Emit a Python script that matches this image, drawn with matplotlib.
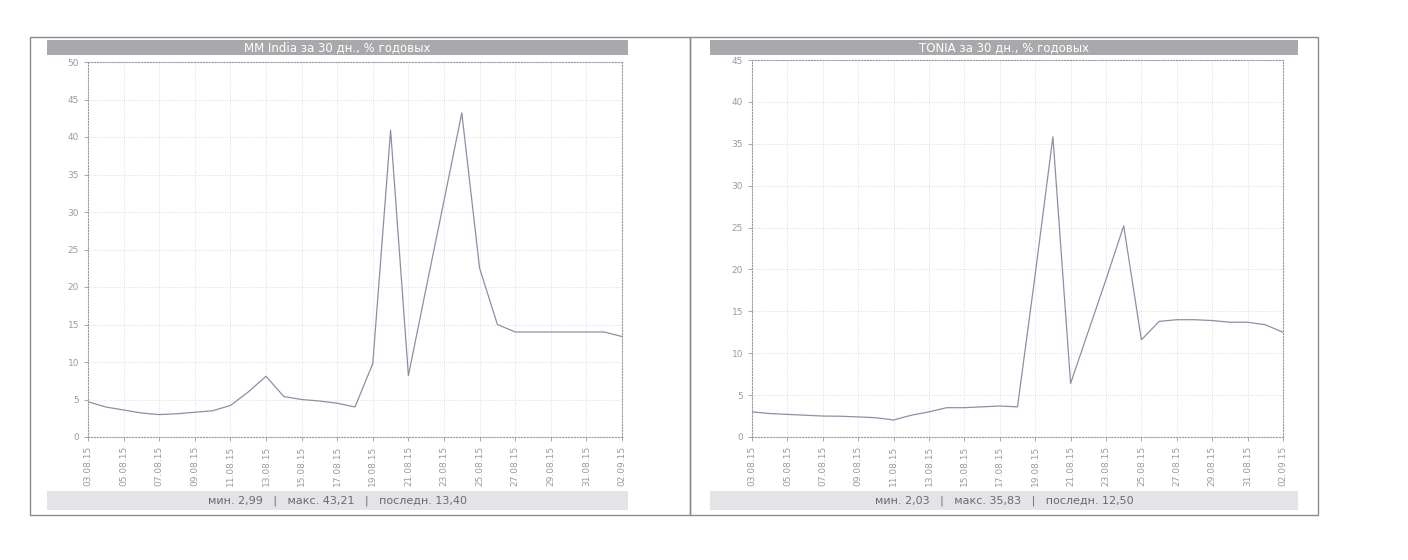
import matplotlib
matplotlib.use("Agg")
import matplotlib.pyplot as plt
from matplotlib.patches import Rectangle

# даты (ежедневно, 03.08.15 - 02.09.15)
dates = ["03.08.15", "04.08.15", "05.08.15", "06.08.15", "07.08.15", "08.08.15",
         "09.08.15", "10.08.15", "11.08.15", "12.08.15", "13.08.15", "14.08.15",
         "15.08.15", "16.08.15", "17.08.15", "18.08.15", "19.08.15", "20.08.15",
         "21.08.15", "22.08.15", "23.08.15", "24.08.15", "25.08.15", "26.08.15",
         "27.08.15", "28.08.15", "29.08.15", "30.08.15", "31.08.15", "01.09.15",
         "02.09.15"]

mm_india = [4.7, 4.0, 3.6, 3.2, 2.99, 3.1, 3.3, 3.5, 4.2, 6.0,
            8.1, 5.4, 5.0, 4.8, 4.5, 4.0, 9.8, 40.9, 8.2, 19.9,
            31.5, 43.21, 22.5, 15.0, 14.0, 14.0, 14.0, 14.0, 14.0, 14.0,
            13.4]

tonia = [3.0, 2.8, 2.7, 2.6, 2.5, 2.48, 2.4, 2.3, 2.03, 2.6,
         3.0, 3.5, 3.5, 3.6, 3.7, 3.6, 19.4, 35.83, 6.4, 12.6,
         18.8, 25.2, 11.6, 13.8, 14.0, 14.0, 13.9, 13.7, 13.7, 13.4,
         12.5]

titles = ["MM India за 30 дн., % годовых", "TONIA за 30 дн., % годовых"]
stats = ["мин. 2,99   |   макс. 43,21   |   последн. 13,40",
         "мин. 2,03   |   макс. 35,83   |   последн. 12,50"]
y_tops = [50, 45]

W, H = 1408, 560
fig = plt.figure(figsize=(W / 100, H / 100), dpi=100)
fig.patch.set_facecolor("white")


def px(x0, y0, x1, y1):
    # пиксели -> доли фигуры (y сверху вниз)
    return [x0 / W, 1 - y1 / H, (x1 - x0) / W, (y1 - y0) / H]


def fig_rect(x0, y0, x1, y1, **kw):
    l, b, w, h = px(x0, y0, x1, y1)
    fig.patches.append(Rectangle((l, b), w, h, transform=fig.transFigure, **kw))


# рамки панелей
fig_rect(30, 37, 690, 515, fill=False, edgecolor="#8a8a8a", lw=1.0)
fig_rect(690, 37, 1318, 515, fill=False, edgecolor="#8a8a8a", lw=1.0)

panels = [
    dict(series=mm_india, ax=(88, 62, 622, 437), bar=(47, 40, 628, 55), sbar=(47, 491, 628, 510)),
    dict(series=tonia, ax=(752, 60, 1283, 437), bar=(710, 40, 1298, 55), sbar=(710, 491, 1298, 510)),
]

x = list(range(len(dates)))

for i, p in enumerate(panels):
    # заголовок
    fig_rect(*p["bar"], facecolor="#a9a9ad", edgecolor="none")
    bx0, by0, bx1, by1 = p["bar"]
    fig.text((bx0 + bx1) / 2 / W, 1 - (by0 + by1) / 2 / H, titles[i],
             ha="center", va="center", color="white", fontsize=8.5)

    # строка статистики
    fig_rect(*p["sbar"], facecolor="#e4e4e6", edgecolor="none")
    sx0, sy0, sx1, sy1 = p["sbar"]
    fig.text((sx0 + sx1) / 2 / W, 1 - (sy0 + sy1) / 2 / H, stats[i],
             ha="center", va="center", color="#6a6a72", fontsize=8)

    ax = fig.add_axes(px(*p["ax"]))
    ax.plot(x, p["series"], color="#8c90a6", lw=0.9)
    ax.set_xlim(0, len(dates) - 1)
    ax.set_ylim(0, y_tops[i])
    ax.set_yticks(range(0, y_tops[i] + 1, 5))
    ax.set_xticks(x[::2])
    ax.set_xticklabels(dates[::2], rotation=90)
    ax.tick_params(colors="#9a9aa2", labelsize=6.5, length=3, width=0.6)
    ax.grid(True, color="#d6d6d6", lw=0.6, ls=":")
    for s in ax.spines.values():
        s.set_color("#9a9aa2")
        s.set_linestyle(":")
        s.set_linewidth(0.8)

fig.savefig("out.png", dpi=100)
